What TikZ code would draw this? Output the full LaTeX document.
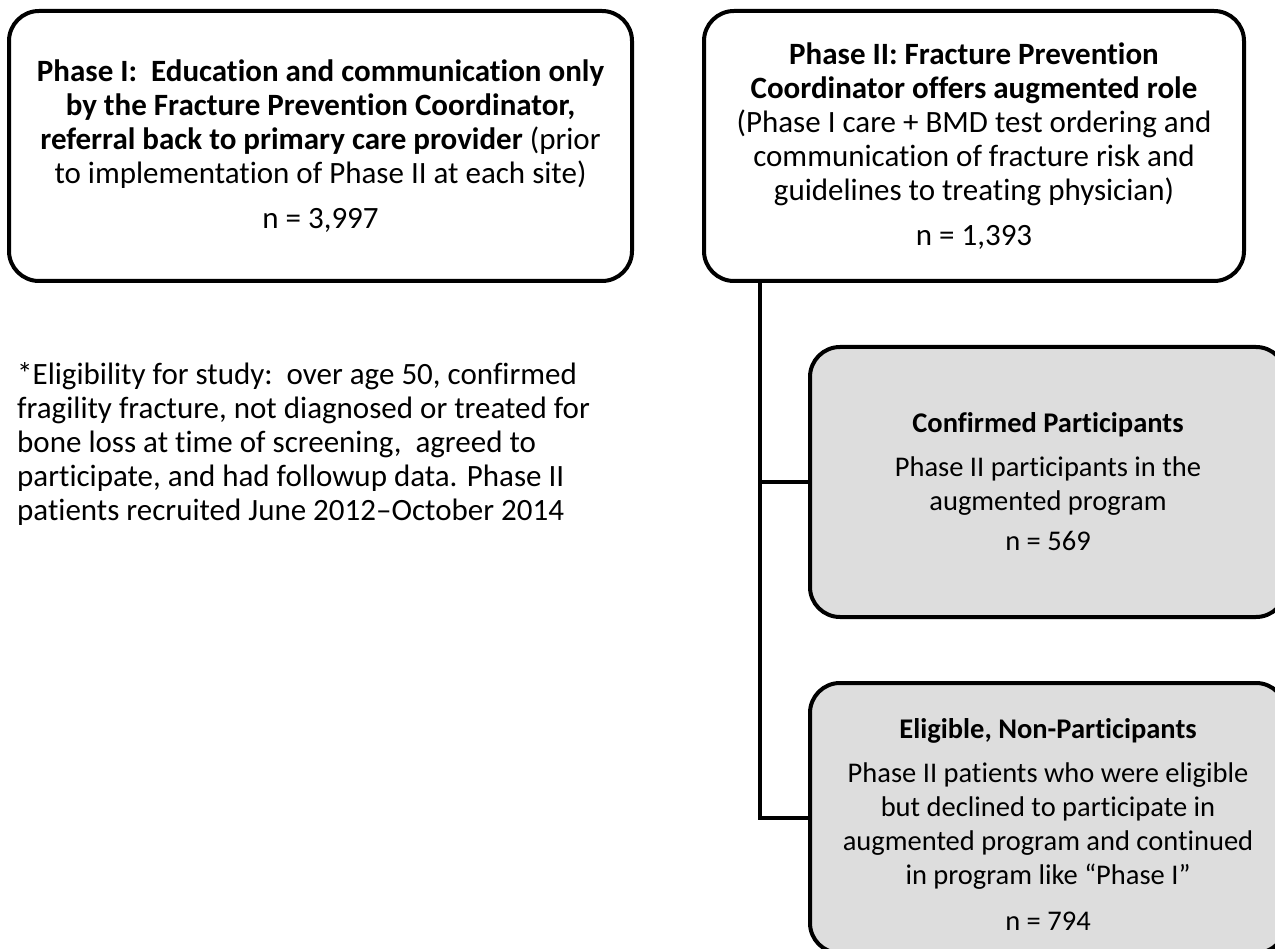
\documentclass[tikz,border=0pt]{standalone}
\usepackage{fontspec}
\setmainfont{Carlito}[Ligatures={NoCommon}]
\definecolor{boxgray}{RGB}{221,221,221}
\begin{document}
\begin{tikzpicture}[x=1pt,y=-1pt,
  box/.style={draw=black, line width=4pt, rounded corners=30pt, align=center,
    inner sep=0pt, font=\fontsize{31}{34}\selectfont},
  graybox/.style={box, fill=boxgray, font=\fontsize{28.5}{34}\selectfont},
  note/.style={align=left, inner sep=0pt, anchor=north west, font=\fontsize{31}{34}\selectfont},
  conn/.style={draw=black, line width=4pt}]
\useasboundingbox (0,0) rectangle (1275,949);
\clip (0,0) rectangle (1275,949);
\node[box, minimum width=623pt, minimum height=270pt] (p1) at (320.5,146)
  {\textbf{Phase I:\ \ Education and communication only}\\
   \textbf{by the Fracture Prevention Coordinator,}\\
   \textbf{referral back to primary care provider} (prior\\
   to implementation of Phase II at each site)\\[11pt]
   n = 3,997};
\node[box, minimum width=540pt, minimum height=270pt] (p2) at (974,146)
  {\textbf{Phase II: Fracture Prevention}\\
   \textbf{Coordinator offers augmented role}\\
   (Phase I care + BMD test ordering and\\
   communication of fracture risk and\\
   guidelines to treating physician)\\[11pt]
   n = 1,393};
\node[graybox, minimum width=476pt, minimum height=270pt] (c3) at (1048,482)
  {\textbf{Confirmed Participants}\\[10pt]
   Phase II participants in the\\
   augmented program\\[6pt]
   n = 569};
\node[graybox, minimum width=476pt, minimum height=270pt] (c4) at (1048,818)
  {\rule{0pt}{32pt}\textbf{Eligible, Non-Participants}\\[10pt]
   Phase II patients who were eligible\\
   but declined to participate in\\
   augmented program and continued\\
   in program like “Phase I”\\[12pt]
   n = 794};
\node[note] (elig) at (17,362)
  {*Eligibility for study:\ \ over age 50, confirmed\\
   fragility fracture, not diagnosed or treated for\\
   bone loss at time of screening,\ \ agreed to\\
   participate, and had followup data. Phase II\\
   patients recruited June 2012–October 2014};
\coordinate (trunk) at (760,0);
\draw[conn] (p2.south -| trunk) |- (c3.west);
\draw[conn] (p2.south -| trunk) |- (c4.west);
\end{tikzpicture}
\end{document}
